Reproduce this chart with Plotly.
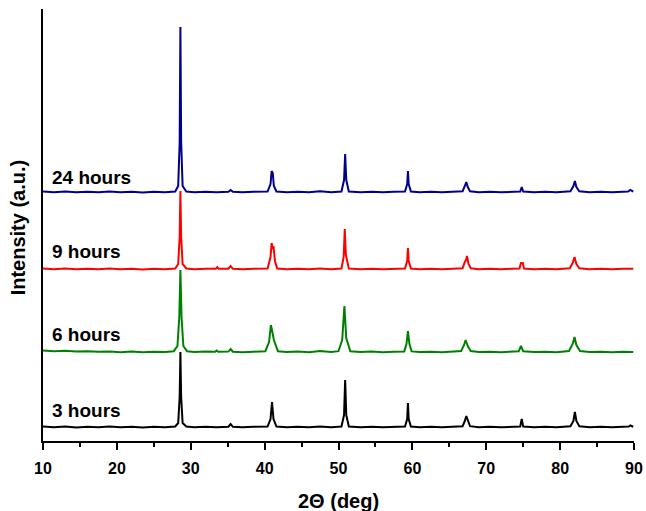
import plotly.graph_objects as go

# ---- data (2-theta in degrees, intensity in arbitrary units) ----
labels = ["3 hours", "6 hours", "9 hours", "24 hours"]
colors = ["#000000", "#008000", "#FF0000", "#00008B"]
offsets = [14, 89, 172, 249]
label_y = [31, 107, 190, 264]

pts_3h = [(10,0.5),(11.5,-0.3),(13,0.4),(14.5,-0.4),(16,0.3),(17.5,-0.2),(19,0.4),(20.5,-0.3),(22,0.3),(23.5,-0.4),
          (25,0.2),(26.5,-0.3),(27.9,0.5),(28.3,4),(28.5,30),(28.6,75),(28.7,30),(28.9,4),(29.4,0.5),(30.5,-0.3),
          (32,0.3),(33.5,-0.2),(35.1,0.3),(35.4,3),(35.7,0.2),(37,-0.3),(38.5,0.3),(40.4,0.5),(40.8,8),(41.0,25),
          (41.2,8),(41.6,0.5),(43,-0.3),(44.5,0.3),(46,-0.2),(47.5,0.4),(49,-0.3),(50.4,0.5),(50.75,12),(50.9,47),
          (51.05,12),(51.4,0.5),(53,-0.3),(54.5,0.3),(56,-0.2),(57.5,0.3),(59.0,0.5),(59.3,8),(59.4,24),(59.5,8),
          (59.8,0.5),(61,-0.3),(62.5,0.3),(64,-0.2),(65.5,0.3),(66.8,0.8),(67.1,6),(67.3,11),(67.5,7),(67.8,0.8),
          (69,-0.2),(70.5,0.3),(72,-0.3),(73.5,0.3),(74.6,0.5),(74.8,8),(75.0,0.5),(76.5,-0.3),(78,0.3),(79.5,-0.2),
          (81.4,0.8),(81.8,6),(82.0,15),(82.2,6),(82.6,0.8),(84,-0.3),(85.5,0.3),(87,-0.2),(88.5,0.3),(89.3,0.5),
          (89.5,1.5),(89.9,0.3)]

pts_6h = [(10,1.5),(11.5,0.8),(13,1.2),(14.5,0.4),(16,0.8),(17.5,0.2),(19,0.6),(20.5,-0.2),(22,0.4),(23.5,-0.3),
          (25,0.3),(26.5,0.0),(27.7,0.8),(28.2,6),(28.45,35),(28.6,82),(28.75,35),(29.0,6),(29.5,0.8),(30.5,0.0),
          (32,0.4),(33.3,0.3),(33.5,1.5),(33.7,0.3),(35.1,0.4),(35.4,3),(35.7,0.3),(37,-0.2),(38.5,0.3),(40.1,0.8),
          (40.6,10),(40.85,27),(41.05,20),(41.25,12),(41.8,0.8),(43,0.0),(44.5,0.4),(46,-0.2),(47.5,1.0),(49,0.0),
          (50.0,0.8),(50.5,12),(50.8,46),(51.05,14),(51.6,0.8),(53,0.0),(54.5,0.4),(56,-0.2),(57.5,0.3),(58.9,0.6),
          (59.2,8),(59.4,21),(59.6,8),(59.9,0.6),(61,0.0),(62.5,0.3),(64,-0.2),(65.5,0.3),(66.6,1.0),(67.0,7),
          (67.2,12),(67.5,6),(67.9,1.0),(69,0.0),(70.5,0.3),(72,-0.2),(73.5,0.3),(74.4,0.8),(74.7,6),(75.0,0.8),
          (76.5,0.0),(78,0.3),(79.5,-0.2),(81.2,1.0),(81.7,8),(81.95,15),(82.2,7),(82.7,1.0),(84,0.0),(85.5,0.3),
          (87,-0.2),(88.5,0.3),(89.9,0.0)]

pts_9h = [(10,0.5),(11.5,-0.3),(13,0.4),(14.5,-0.3),(16,0.3),(17.5,-0.2),(19,0.4),(20.5,-0.3),(22,0.3),(23.5,-0.4),
          (25,0.2),(26.5,-0.3),(27.9,0.5),(28.3,5),(28.5,32),(28.6,78),(28.7,32),(28.9,5),(29.4,0.5),(30.5,-0.3),
          (32,0.3),(33.4,0.2),(33.6,2),(33.8,0.2),(35.1,0.3),(35.4,3),(35.7,0.2),(37,-0.3),(38.5,0.3),(40.4,0.5),
          (40.8,12),(40.95,26),(41.1,20),(41.2,23),(41.4,8),(41.7,0.5),(43,-0.3),(44.5,0.3),(46,-0.2),(47.5,0.4),
          (49,-0.3),(50.4,0.5),(50.7,12),(50.85,40),(51.0,14),(51.4,0.5),(53,-0.3),(54.5,0.3),(56,-0.2),(57.5,0.3),
          (59.0,0.5),(59.3,8),(59.4,21),(59.5,8),(59.8,0.5),(61,-0.3),(62.5,0.3),(64,-0.2),(65.5,0.3),(66.8,0.8),
          (67.1,7),(67.25,9),(67.4,13),(67.6,5),(67.9,0.8),(69,-0.2),(70.5,0.3),(72,-0.3),(73.5,0.3),(74.5,0.5),
          (74.7,6),(74.95,6),(75.1,0.5),(76.5,-0.3),(78,0.3),(79.5,-0.2),(81.3,0.8),(81.7,6),(81.95,12),(82.2,5),
          (82.6,0.8),(84,-0.3),(85.5,0.3),(87,-0.2),(88.5,0.3),(89.5,0.8),(89.9,0.3)]

pts_24h = [(10,0.5),(11.5,-0.3),(13,0.4),(14.5,-0.3),(16,0.3),(17.5,-0.2),(19,0.4),(20.5,-0.3),(22,0.3),(23.5,-0.4),
           (25,0.2),(26.5,-0.3),(27.9,0.5),(28.3,6),(28.5,50),(28.6,165),(28.7,50),(28.9,6),(29.4,0.5),(30.5,-0.3),
           (32,0.3),(33.5,-0.2),(35.1,0.3),(35.4,2),(35.7,0.2),(37,-0.3),(38.5,0.3),(40.4,0.5),(40.8,8),(40.95,21),
           (41.1,19),(41.25,6),(41.6,0.5),(43,-0.3),(44.5,0.3),(46,-0.2),(47.5,0.8),(49,-0.3),(50.4,0.5),(50.75,12),
           (50.9,38),(51.05,12),(51.4,0.5),(53,-0.3),(54.5,0.3),(56,-0.2),(57.5,0.3),(59.0,0.5),(59.3,8),(59.4,21),
           (59.5,8),(59.8,0.5),(61,-0.3),(62.5,0.3),(64,-0.2),(65.5,0.3),(66.8,0.8),(67.1,6),(67.3,10),(67.5,5),
           (67.8,0.8),(69,-0.2),(70.5,0.3),(72,-0.3),(73.5,0.3),(74.6,0.5),(74.8,5),(75.0,0.5),(76.5,-0.3),(78,0.3),
           (79.5,-0.2),(81.4,0.8),(81.8,6),(82.0,11),(82.2,5),(82.6,0.8),(84,-0.3),(85.5,0.3),(87,-0.2),(88.5,0.3),
           (89.2,0.5),(89.5,2),(89.9,0.3)]

series = [pts_3h, pts_6h, pts_9h, pts_24h]
x_ticks = [10, 20, 30, 40, 50, 60, 70, 80, 90]

FONT = "Arial, 'Liberation Sans', sans-serif"

fig = go.Figure()
for pts, off, col, name in zip(series, offsets, colors, labels):
    xs = [p[0] for p in pts]
    ys = [p[1] + off for p in pts]
    fig.add_trace(go.Scatter(x=xs, y=ys, mode="lines", name=name,
                             line=dict(color=col, width=2), showlegend=False))

annotations = []
for name, ly in zip(labels, label_y):
    annotations.append(dict(x=11.0, y=ly, xref="x", yref="y", text=name, showarrow=False,
                            xanchor="left", yanchor="middle",
                            font=dict(family=FONT, size=19, color="black", weight="bold")))
annotations.append(dict(x=-0.042, y=0.495, xref="paper", yref="paper", text="Intensity (a.u.)",
                        textangle=-90, showarrow=False, xanchor="center", yanchor="middle",
                        font=dict(family=FONT, size=20, color="black", weight="bold")))
annotations.append(dict(x=0.5, y=-0.139, xref="paper", yref="paper", text="2Θ (deg)",
                        showarrow=False, xanchor="center", yanchor="middle",
                        font=dict(family=FONT, size=20, color="black", weight="bold")))

fig.update_layout(
    width=646, height=511,
    margin=dict(l=43, r=12, t=9, b=70),
    paper_bgcolor="white", plot_bgcolor="white",
    annotations=annotations,
    xaxis=dict(range=[10, 90], tickvals=x_ticks, ticks="outside", ticklen=7, tickwidth=2,
               tickcolor="black", showline=True, linewidth=2, linecolor="black",
               showgrid=False, zeroline=False, ticklabelstandoff=5, automargin=False,
               tickfont=dict(family=FONT, size=16, color="black", weight="bold"),
               minor=dict(dtick=5, tick0=10, ticks="outside", ticklen=4, tickwidth=2, tickcolor="black")),
    yaxis=dict(range=[0, 432], showline=True, linewidth=2, linecolor="black", automargin=False,
               showticklabels=False, ticks="", showgrid=False, zeroline=False),
)

fig.write_html("out.html", config={"displayModeBar": False},
               post_script="document.body.style.margin='0';document.body.style.overflow='hidden';")
